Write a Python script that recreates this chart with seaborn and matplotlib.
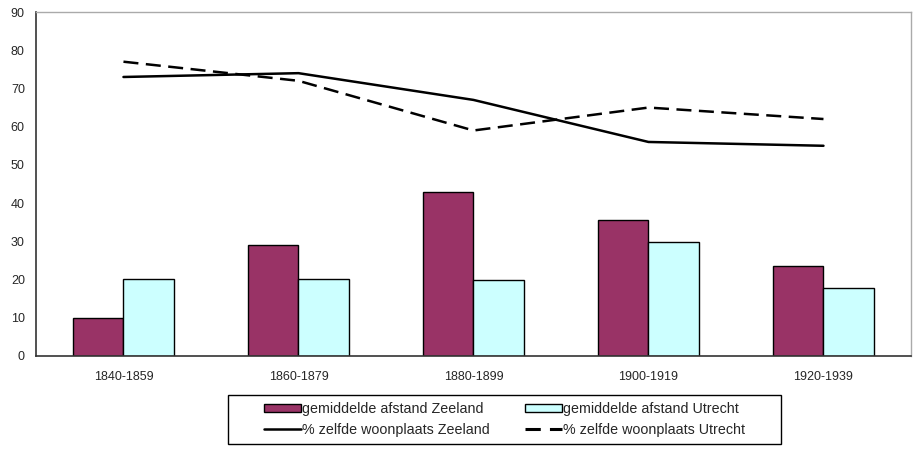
import numpy as np
import pandas as pd
import seaborn as sns
import matplotlib.pyplot as plt
from matplotlib.patches import Patch, Rectangle
from matplotlib.lines import Line2D

# data
periods = ['1840-1859', '1860-1879', '1880-1899', '1900-1919', '1920-1939']
afstand_zeeland = [10.0, 29.0, 43.0, 35.5, 23.6]
afstand_utrecht = [20.2, 20.1, 19.9, 29.8, 17.8]
zelfde_zeeland = [73, 74, 67, 56, 55]
zelfde_utrecht = [77, 72, 59, 65, 62]

lbl_bz = 'gemiddelde afstand Zeeland'
lbl_bu = 'gemiddelde afstand Utrecht'
lbl_lz = '% zelfde woonplaats Zeeland'
lbl_lu = '% zelfde woonplaats Utrecht'

sns.set_style('white')
plt.rcParams['font.family'] = ['Liberation Sans', 'DejaVu Sans']

bars = pd.DataFrame({
    'periode': periods * 2,
    'waarde': afstand_zeeland + afstand_utrecht,
    'reeks': [lbl_bz] * 5 + [lbl_bu] * 5,
})
lines = pd.DataFrame({
    'x': list(np.arange(len(periods))) * 2,
    'waarde': zelfde_zeeland + zelfde_utrecht,
    'reeks': [lbl_lz] * 5 + [lbl_lu] * 5,
})

fig = plt.figure(figsize=(9.15, 4.55), dpi=100)
ax = fig.add_axes([0.0393, 0.2176, 0.9563, 0.756])

sns.barplot(data=bars, x='periode', y='waarde', hue='reeks', order=periods,
            palette={lbl_bz: '#993366', lbl_bu: '#CCFFFF'}, width=0.572,
            edgecolor='black', linewidth=1.0, saturation=1, ax=ax, legend=False)

sns.lineplot(data=lines, x='x', y='waarde', style='reeks', color='black',
             dashes={lbl_lz: '', lbl_lu: (6, 3)}, linewidth=1.8, ax=ax, legend=False)

ax.set_xlim(-0.5, 4.5)
ax.set_ylim(0, 90)
ax.set_yticks(range(0, 91, 10))
ax.set_xticks(np.arange(-0.5, 5, 1), minor=False)
ax.set_xticklabels([])
ax.set_xticks(np.arange(5), minor=True)
ax.set_xticklabels(periods, minor=True)
ax.tick_params(axis='x', which='minor', length=0, pad=11, labelsize=9)
ax.tick_params(axis='x', which='major', direction='out', length=5, width=1, color='#333333')
ax.tick_params(axis='y', direction='out', length=5, width=1, labelsize=9, color='#333333', pad=3)
ax.set_xlabel('')
ax.set_ylabel('')

for side in ['left', 'bottom']:
    ax.spines[side].set_color('#333333')
    ax.spines[side].set_linewidth(1.2)
for side in ['top', 'right']:
    ax.spines[side].set_visible(True)
    ax.spines[side].set_color('#aaaaaa')
    ax.spines[side].set_linewidth(1.0)

# legend filled row by row like the original: bars on top, lines below
handles = [
    Patch(facecolor='#993366', edgecolor='black', label=lbl_bz),
    Line2D([], [], color='black', linewidth=1.8, label=lbl_lz),
    Patch(facecolor='#CCFFFF', edgecolor='black', label=lbl_bu),
    Line2D([], [], color='black', linewidth=2.2, dashes=(5, 3), label=lbl_lu),
]
leg = fig.legend(handles=handles, ncol=2, loc='center', bbox_to_anchor=(504.5 / 915, 1 - 419.5 / 455),
                 frameon=False, fontsize=10.3,
                 handlelength=2.6, handleheight=0.5, handletextpad=0.1, columnspacing=2.4,
                 labelspacing=0.45, borderpad=0.5, borderaxespad=0)

# the original legend box has wider side margins than top/bottom
fig.canvas.draw()
bb = leg.get_window_extent().transformed(fig.transFigure.inverted())
extra = 29 / 915
fig.patches.append(Rectangle((bb.x0 - extra, bb.y0), bb.width + 2 * extra, bb.height,
                             transform=fig.transFigure, fill=False, edgecolor='black',
                             linewidth=1.0))

fig.savefig('out.png', dpi=100)
